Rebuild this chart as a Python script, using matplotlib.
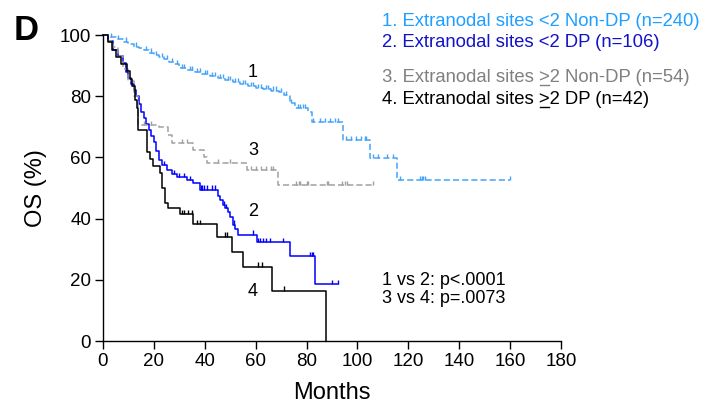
import numpy as np
import matplotlib
matplotlib.use('Agg')
import matplotlib.pyplot as plt
from matplotlib.font_manager import FontProperties
from matplotlib.lines import Line2D
from matplotlib.transforms import IdentityTransform

plt.rcParams['font.family'] = ['Liberation Sans', 'DejaVu Sans']

# Kaplan-Meier curves: drop times (months), survival after each drop (%), censored times
t1 = [0, 2, 5, 8, 10, 12, 14, 16, 18, 20, 22, 24, 26, 28, 30, 33, 36, 39, 42, 45, 48, 51,
      54, 57, 60, 63, 66, 69, 71, 73.5, 75.5, 80.6, 82, 94.3, 105, 115.5]
s1 = [100, 99.3, 98.6, 97.8, 97, 96.2, 95.6, 95, 94.2, 93.4, 92.7, 92, 91.2, 90.4, 89.2, 88.5,
      87.8, 87.2, 86.6, 86, 85.2, 84.6, 84, 83.4, 82.6, 82.2, 81.8, 81.4, 80.4, 77.8, 76, 74.8,
      71.6, 65.7, 59.8, 52.6]
c1 = [3, 6, 9, 13, 17, 19, 21, 23, 25, 27, 29, 31, 32, 34, 35, 37, 38, 40, 41, 43, 44, 46, 47,
      49, 50, 52, 53, 55, 56, 58, 59, 61, 62, 64, 65, 67, 68, 70, 72, 74, 76.5, 77.5, 78.5, 79.5,
      82.6, 85.3, 87.3, 89.2, 91.2, 92.4, 95.6, 97.5, 99.5, 101.5, 103, 103.5, 106, 108, 111.6,
      114, 116.7, 124.6, 125.4, 125.8, 126.6, 160]

t2 = [0, 2, 4, 6, 8, 9, 10, 11, 12, 13, 14, 15, 16, 17, 18, 19, 20, 21, 22, 23, 25, 27, 29, 33,
      35.5, 38, 45, 46, 47, 48, 49, 50, 51, 52, 53, 60.5, 73.5, 83.3]
s2 = [100, 98, 95, 93, 91, 88, 86, 84, 82, 80, 77.5, 75, 73, 71, 69, 67, 65, 62, 59, 57.5, 56,
      54.5, 53.5, 52.5, 51.5, 49.5, 47.5, 46, 44.5, 43.5, 42, 40.5, 38, 36.5, 34.8, 32.4, 27.8, 18.6]
c2 = [24, 28, 30, 32, 34, 38.5, 39, 39.5, 41, 43, 44, 47.5, 48.5, 51.5, 59, 61, 61.7, 63, 64,
      65.6, 70.7, 81.4, 82, 82.6, 90, 92.4]

t3 = [0, 2, 4, 6, 8, 10, 12, 13.7, 22, 25.5, 27, 35.5, 39.5, 41, 56.6, 68.6]
s3 = [100, 98, 96, 93, 89, 85, 80, 70.6, 70, 67.3, 64.6, 62.4, 60.1, 58.2, 55.8, 51]
c3 = [16, 19, 31, 33, 45, 50, 58, 60, 62, 64, 66, 67, 76, 77, 77.5, 80, 80.5, 88, 88.5, 94,
      95, 96, 106]

t4 = [0, 2, 3.5, 5, 7, 9.5, 10.5, 11.5, 12.5, 13.4, 13.8, 17.3, 18.5, 19.7, 22.4, 23, 24.4,
      25.6, 30.3, 35.5, 44.7, 50.6, 55.2, 66.3, 87.7]
s4 = [100, 97.6, 95.2, 92.9, 90.5, 88.1, 85.7, 83.3, 78.6, 76.2, 69, 61.9, 59.5, 57.1, 54.8,
      50, 45.2, 43.4, 41.5, 38.3, 34.1, 29.2, 24.3, 16.5, 0]
c4 = [31, 32, 33.5, 35, 37, 38, 48, 48.7, 61, 62.5, 71]

curves = [
    (t1, s1, c1, '#46a3fa', (4, 2)),
    (t2, s2, c2, '#0000ff', None),
    (t3, s3, c3, '#a0a0a0', (4, 2)),
    (t4, s4, c4, '#000000', None),
]

legend_lines = [
    ('1. Extranodal sites <2 Non-DP (n=240)', '#1f9fff', None),
    ('2. Extranodal sites <2 DP (n=106)', '#1212c8', None),
    ('3. Extranodal sites >2 Non-DP (n=54)', '#808080', '3. Extranodal sites >'),
    ('4. Extranodal sites >2 DP (n=42)', '#000000', '4. Extranodal sites >'),
]

fig = plt.figure(figsize=(7.04, 4.08), dpi=100)
ax = fig.add_axes([103 / 704, 67 / 408, 458 / 704, 306 / 408])

for t, s, c, col, dash in curves:
    t_end = max(t[-1], max(c))
    line, = ax.step(t + [t_end], s + [s[-1]], where='post', color=col, lw=1.1, clip_on=False)
    if dash:
        line.set_dashes(dash)
    idx = np.searchsorted(t, c, side='right') - 1
    lev = np.array(s)[idx]
    ax.vlines(c, lev, lev + 1.4, color=col, lw=1.0, clip_on=False)

ax.set_xlim(0, 180)
ax.set_ylim(0, 100)
ax.set_xticks(np.arange(0, 181, 20))
ax.set_yticks(np.arange(0, 101, 20))
for side in ['top', 'right']:
    ax.spines[side].set_visible(False)
for side in ['left', 'bottom']:
    ax.spines[side].set_linewidth(1.0)
ax.tick_params(direction='out', length=5.5, width=1.0, labelsize=13.5, pad=3)
ax.set_xlabel('Months', fontsize=17, labelpad=9)
ax.set_ylabel('OS (%)', fontsize=17, labelpad=9)

# curve numbers
ax.text(59.0, 87.9, '1', fontsize=13, ha='center', va='center')
ax.text(59.0, 42.2, '2', fontsize=13, ha='center', va='center')
ax.text(59.0, 62.4, '3', fontsize=13, ha='center', va='center')
ax.text(59.0, 16.3, '4', fontsize=13, ha='center', va='center')

ax.text(109.5, 19.9, '1 vs 2: p<.0001', fontsize=13, ha='left', va='center')
ax.text(109.5, 14.0, '3 vs 4: p=.0073', fontsize=13, ha='left', va='center')

fig.text(14 / 704, 1 - 30 / 408, 'D', fontsize=25, fontweight='bold', va='center')

# legend block, with underlined ">" for the >=2 groups
fp = FontProperties(family=['Liberation Sans', 'DejaVu Sans'], size=13.3)
renderer = fig.canvas.get_renderer()
x0 = 382
baselines = [25.5, 47, 82.5, 104.5]
for (label, col, prefix), yb in zip(legend_lines, baselines):
    fig.text(x0 / 704, 1 - yb / 408, label, fontproperties=fp, color=col, va='baseline')
    if prefix:
        w_pre, _, _ = renderer.get_text_width_height_descent(prefix, fp, ismath=False)
        w_gt, _, _ = renderer.get_text_width_height_descent('>', fp, ismath=False)
        y_px = 408 - yb - 2.5
        fig.add_artist(Line2D([x0 + w_pre - w_gt + 1, x0 + w_pre - 0.5], [y_px, y_px],
                              color=col, lw=1.0, transform=IdentityTransform()))

fig.savefig('out.png', dpi=100)
